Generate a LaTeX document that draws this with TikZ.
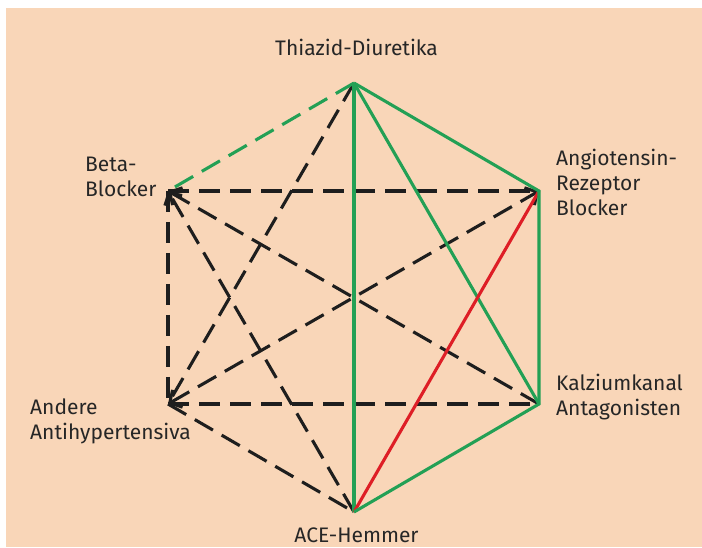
\documentclass[tikz,border=0pt]{standalone}
\usepackage{fontspec}
\setmainfont{Fira Sans}
\usetikzlibrary{arrows.meta}
\definecolor{peach}{RGB}{249,214,184}
\definecolor{grn}{RGB}{35,160,85}
\definecolor{rd}{RGB}{222,30,38}
\definecolor{blk}{RGB}{30,30,30}
\begin{document}
\begin{tikzpicture}[x=1pt,y=1pt,
  link/.style={line width=3.1pt},
  dlink/.style={link, blk, dash pattern=on 21pt off 10pt},
  glink/.style={link, grn},
  tip/.style={-{Straight Barb[length=9pt,width=20pt,line width=3pt]}},
  lbl/.style={font=\fontsize{21}{25}\selectfont, text=black!85, inner sep=0pt}]
\useasboundingbox (0,0) rectangle (702,547);
\fill[white] (0,0) rectangle (702,547);
\fill[peach] (6,0) rectangle (702,539);
\coordinate (T) at (354,464);
\coordinate (R) at (539,356);
\coordinate (K) at (539,143);
\coordinate (C) at (354,35);
\coordinate (A) at (168,143);
\coordinate (B) at (168,356);
% black dashed
\draw[dlink] (B) -- (R);
\draw[dlink] (A) -- (K);
\draw[dlink] (B) -- (A);
\draw[dlink] (T) -- (A);
\draw[dlink] (A) -- (C);
\draw[dlink,tip] (K) -- (B);
\draw[dlink,tip] (C) -- (B);
\draw[dlink,{Straight Barb[length=9pt,width=20pt,line width=3pt]}-{Straight Barb[length=9pt,width=20pt,line width=3pt]}] (A) -- (R);
% green
\draw[link, grn, dash pattern=on 21pt off 10pt] (T) -- (B);
\draw[glink] (T) -- (C);
\draw[glink] (T) -- (K);
\draw[rd, link] (R) -- (C);
\draw[glink, line join=miter] (T) -- (R) -- (K) -- (C);
% labels
\node[lbl] (lT) at (356.5,500) {Thiazid-Diuretika};
\node[lbl, align=left, anchor=west] (lB) at (85,370) {Beta-\\Blocker};
\node[lbl, align=left, anchor=west] (lR) at (556,365) {Angiotensin-\\Rezeptor\\Blocker};
\node[lbl, align=left, anchor=west] (lK) at (556,150) {Kalziumkanal\\Antagonisten};
\node[lbl, align=left, anchor=west] (lA) at (30,126) {Andere\\Antihypertensiva};
\node[lbl] (lC) at (356.5,12) {ACE-Hemmer};
\end{tikzpicture}
\end{document}
